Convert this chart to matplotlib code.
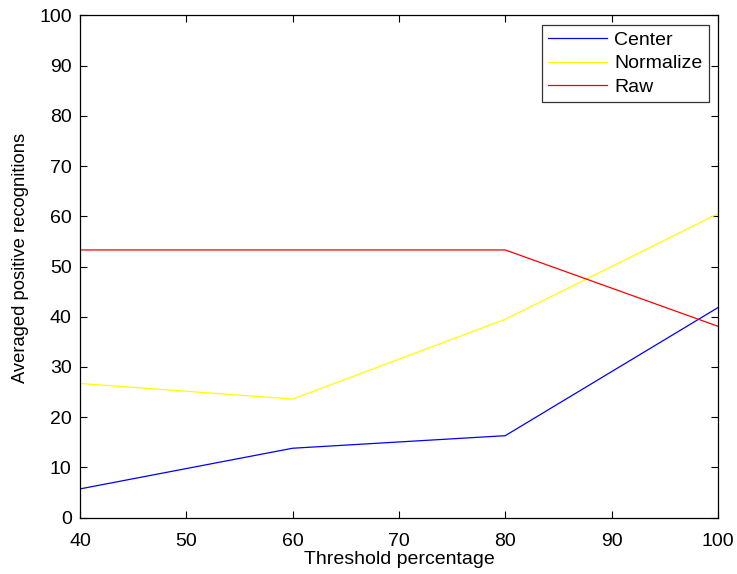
import matplotlib.pyplot as plt

plt.rcParams["font.family"] = ["Liberation Sans", "DejaVu Sans"]

thresholds = [40, 60, 80, 100]
center = [5.7, 13.8, 16.3, 41.8]
normalize = [26.7, 23.6, 39.5, 60.5]
raw = [53.3, 53.3, 53.3, 38.1]

fig = plt.figure(figsize=(7.37, 5.74), dpi=100)
ax = fig.add_axes([0.1085, 0.0984, 0.8655, 0.8746])

ax.plot(thresholds, center, color="#0000ff", lw=0.9, label="Center")
ax.plot(thresholds, normalize, color="#ffff00", lw=0.9, label="Normalize")
ax.plot(thresholds, raw, color="#ff0000", lw=0.9, label="Raw")

ax.set_xlim(40, 100)
ax.set_ylim(0, 100)
ax.set_xticks(range(40, 101, 10))
ax.set_yticks(range(0, 101, 10))
ax.tick_params(direction="in", top=True, right=True, length=5, width=0.8,
               labelsize=14)
ax.tick_params(axis="x", pad=11)
ax.tick_params(axis="y", pad=6)
for s in ax.spines.values():
    s.set_linewidth(0.9)

ax.set_xlabel("Threshold percentage", fontsize=14, labelpad=1)
ax.set_ylabel("Averaged positive recognitions", fontsize=13.2)
ax.yaxis.set_label_coords(-0.08, 0.517)

leg = ax.legend(loc="upper right", bbox_to_anchor=(0.986, 0.981),
                fontsize=14, frameon=True, fancybox=False,
                handlelength=3.0, handletextpad=0.4, labelspacing=0.3,
                borderpad=0.32, borderaxespad=0)
leg.get_frame().set_edgecolor("black")
leg.get_frame().set_linewidth(0.9)

fig.savefig("out.png", dpi=100)
